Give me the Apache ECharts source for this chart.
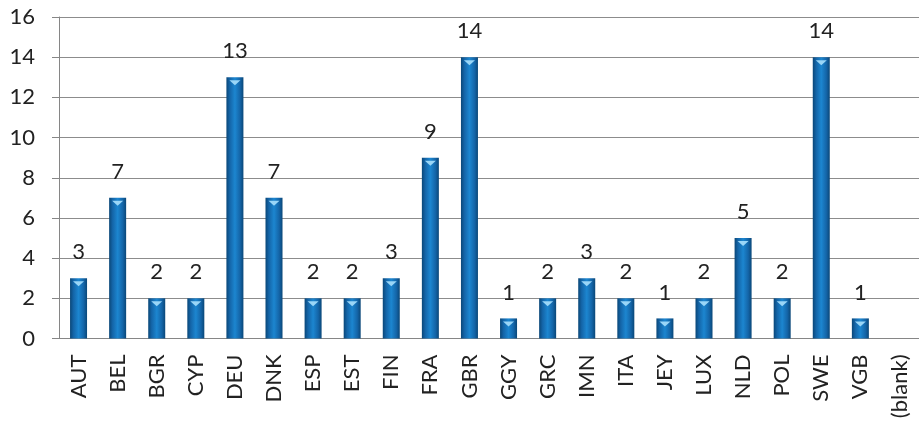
<!DOCTYPE html>
<html>
<head>
<meta charset="utf-8">
<script src="https://cdn.jsdelivr.net/npm/echarts@6/dist/echarts.min.js"></script>
<style>
html, body { margin: 0; padding: 0; background: #fff; }
#main { width: 919px; height: 434px; }
</style>
</head>
<body>
<div id="main"></div>
<script>
var countries = ['AUT', 'BEL', 'BGR', 'CYP', 'DEU', 'DNK', 'ESP', 'EST', 'FIN', 'FRA', 'GBR',
	'GGY', 'GRC', 'IMN', 'ITA', 'JEY', 'LUX', 'NLD', 'POL', 'SWE', 'VGB', '(blank)'];
var counts = [3, 7, 2, 2, 13, 7, 2, 2, 3, 9, 14, 1, 2, 3, 2, 1, 2, 5, 2, 14, 1, null];
var yTicks = [0, 2, 4, 6, 8, 10, 12, 14, 16];

var myChart = echarts.init(document.getElementById('main'));

// 柱子的立体渐变
var barColor = new echarts.graphic.LinearGradient(0, 0, 1, 0, [
	{ offset: 0, color: '#0a4778' },
	{ offset: 0.2, color: '#1465a8' },
	{ offset: 0.5, color: '#1c86d0' },
	{ offset: 0.8, color: '#1465a8' },
	{ offset: 1, color: '#0a4778' }
]);

var option = {
	animation: false,
	textStyle: { fontFamily: 'Lato' },
	grid: { left: 59, top: 17, width: 864, height: 321.5 },
	xAxis: {
		type: 'category',
		data: countries,
		axisLine: { lineStyle: { color: '#868686' } },
		axisTick: { length: 8, lineStyle: { color: '#868686' } },
		axisLabel: { rotate: 90, margin: 16, fontSize: 22, color: '#222', fontFamily: 'Lato' }
	},
	yAxis: {
		type: 'value',
		min: yTicks[0],
		max: yTicks[yTicks.length - 1],
		interval: 2,
		axisLine: { show: true, lineStyle: { color: '#868686' } },
		axisTick: { show: true, length: 7, lineStyle: { color: '#868686' } },
		axisLabel: { margin: 24, fontSize: 22, color: '#222', fontFamily: 'Lato' },
		splitLine: { lineStyle: { color: '#8c8c8c' } }
	},
	series: [{
		name: 'count',
		type: 'bar',
		data: counts,
		barWidth: 17,
		itemStyle: { color: barColor },
		label: {
			show: true,
			position: 'top',
			distance: 15,
			fontSize: 22,
			color: '#222',
			fontFamily: 'Lato'
		}
	}, {
		// 顶部的小三角高光
		type: 'pictorialBar',
		data: counts,
		symbol: 'triangle',
		symbolRotate: 180,
		symbolSize: [11, 5],
		symbolPosition: 'end',
		symbolOffset: [0, 3],
		barGap: '-100%',
		itemStyle: { color: '#9ad6f7' },
		z: 3
	}]
};

myChart.setOption(option);
</script>
</body>
</html>
